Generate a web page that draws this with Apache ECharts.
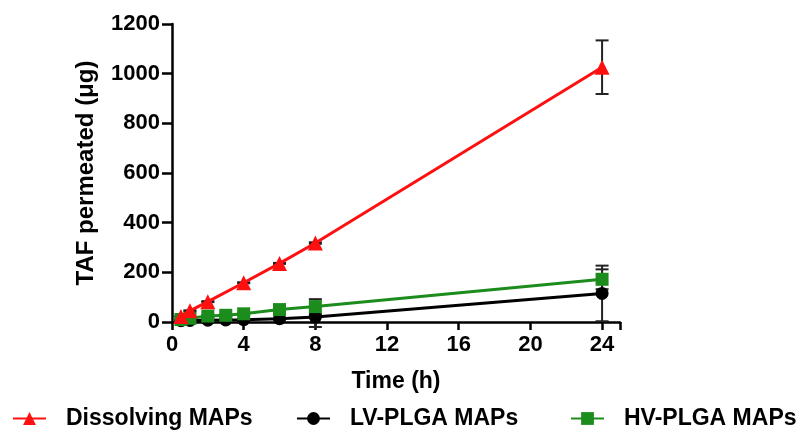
<!DOCTYPE html>
<html><head><meta charset="utf-8">
<script src="https://cdn.jsdelivr.net/npm/echarts@6/dist/echarts.min.js"></script>
<style>html,body{margin:0;padding:0;background:#fff}#c{width:801px;height:432px}</style>
</head><body><div id="c"></div>
<script>
// Data
const seriesNames = ['Dissolving MAPs', 'LV-PLGA MAPs', 'HV-PLGA MAPs'];
const timesDissolving = [0.5, 1, 2, 4, 6, 8, 24];
const valuesDissolving = [22, 45, 82, 158, 236, 318, 1026];
const errDissolving = [2, 2, 2, 2, 2, 3, 108];
const timesLV = [0.5, 1, 2, 3, 4, 6, 8, 24];
const valuesLV = [5, 6, 7, 8, 9, 13, 20, 115];
const errLV = [2, 2, 2, 2, 3, 4, 40, 112];
const timesHV = [0.5, 1, 2, 3, 4, 6, 8, 24];
const valuesHV = [10, 15, 24, 27, 33, 50, 62, 172];
const errHV = [2, 3, 4, 4, 5, 6, 30, 40];
const xTicks = [0, 4, 8, 12, 16, 20, 24];
const yTicks = [0, 200, 400, 600, 800, 1000, 1200];

const colors = ['#ff1010', '#000000', '#1c8c1c'];
const font = 'Liberation Sans, Arial, sans-serif';
const legendLefts = [12, 296, 570];

function pairs(t, v) { return t.map((x, i) => [x, v[i]]); }
function errData(t, v, e) { return t.map((x, i) => [x, v[i] - e[i], v[i] + e[i]]); }

function errSeries(t, v, e, z) {
  return {
    type: 'custom', silent: true, z: z, clip: false,
    data: errData(t, v, e),
    renderItem: function (params, api) {
      const x = api.value(0);
      const lo = api.coord([x, api.value(1)]);
      const hi = api.coord([x, api.value(2)]);
      const w = 6.5;
      const st = { stroke: '#222', lineWidth: 2 };
      return { type: 'group', children: [
        { type: 'line', shape: { x1: lo[0], y1: lo[1], x2: hi[0], y2: hi[1] }, style: st },
        { type: 'line', shape: { x1: hi[0] - w, y1: hi[1], x2: hi[0] + w, y2: hi[1] }, style: st },
        { type: 'line', shape: { x1: lo[0] - w, y1: lo[1], x2: lo[0] + w, y2: lo[1] }, style: st }
      ]};
    }
  };
}

const chart = echarts.init(document.getElementById('c'), null, { renderer: 'canvas' });
chart.setOption({
  animation: false,
  backgroundColor: '#fff',
  grid: { left: 172, right: 181, top: 24, bottom: 110, containLabel: false },
  legend: seriesNames.map((n, i) => ({
    top: 407, left: legendLefts[i], padding: 0, itemWidth: 33, itemHeight: 16,
    textStyle: { fontFamily: font, fontWeight: 'bold', fontSize: 23, color: '#000', padding: [0, 0, 0, 15] },
    data: [n]
  })),
  xAxis: {
    type: 'value', min: 0, max: 25, interval: 4,
    name: 'Time (h)', nameLocation: 'middle', nameGap: 48,
    nameTextStyle: { fontFamily: font, fontWeight: 'bold', fontSize: 23, color: '#000' },
    axisLine: { show: true, onZero: false, lineStyle: { color: '#000', width: 2.5 } },
    axisTick: { show: true, length: 8, lineStyle: { color: '#000', width: 2.5 } },
    axisLabel: { fontFamily: font, fontWeight: 'bold', fontSize: 22, color: '#000', margin: 12,
      formatter: v => xTicks.indexOf(v) >= 0 ? String(v) : '' },
    splitLine: { show: false }
  },
  yAxis: {
    type: 'value', min: 0, max: 1200, interval: 200,
    name: 'TAF permeated (μg)', nameLocation: 'middle', nameGap: 74, nameRotate: 90,
    nameTextStyle: { fontFamily: font, fontWeight: 'bold', fontSize: 24, color: '#000' },
    axisLine: { show: true, lineStyle: { color: '#000', width: 2.5 } },
    axisTick: { show: true, length: 10, lineStyle: { color: '#000', width: 2.5 } },
    axisLabel: { fontFamily: font, fontWeight: 'bold', fontSize: 22, color: '#000', margin: 12,
      formatter: v => yTicks.indexOf(v) >= 0 ? String(v) : '' },
    splitLine: { show: false }
  },
  series: [
    errSeries(timesLV, valuesLV, errLV, 2),
    errSeries(timesHV, valuesHV, errHV, 2),
    errSeries(timesDissolving, valuesDissolving, errDissolving, 2),
    { name: seriesNames[1], type: 'line', data: pairs(timesLV, valuesLV), z: 3,
      symbol: 'circle', symbolSize: 13, color: colors[1],
      lineStyle: { width: 3, color: colors[1] }, itemStyle: { color: colors[1] } },
    { name: seriesNames[2], type: 'line', data: pairs(timesHV, valuesHV), z: 4,
      symbol: 'rect', symbolSize: 13, color: colors[2],
      lineStyle: { width: 3, color: colors[2] }, itemStyle: { color: colors[2] } },
    { name: seriesNames[0], type: 'line', data: pairs(timesDissolving, valuesDissolving), z: 5,
      symbol: 'triangle', symbolSize: 15, color: colors[0],
      lineStyle: { width: 3, color: colors[0] }, itemStyle: { color: colors[0] } }
  ]
});
</script></body></html>
